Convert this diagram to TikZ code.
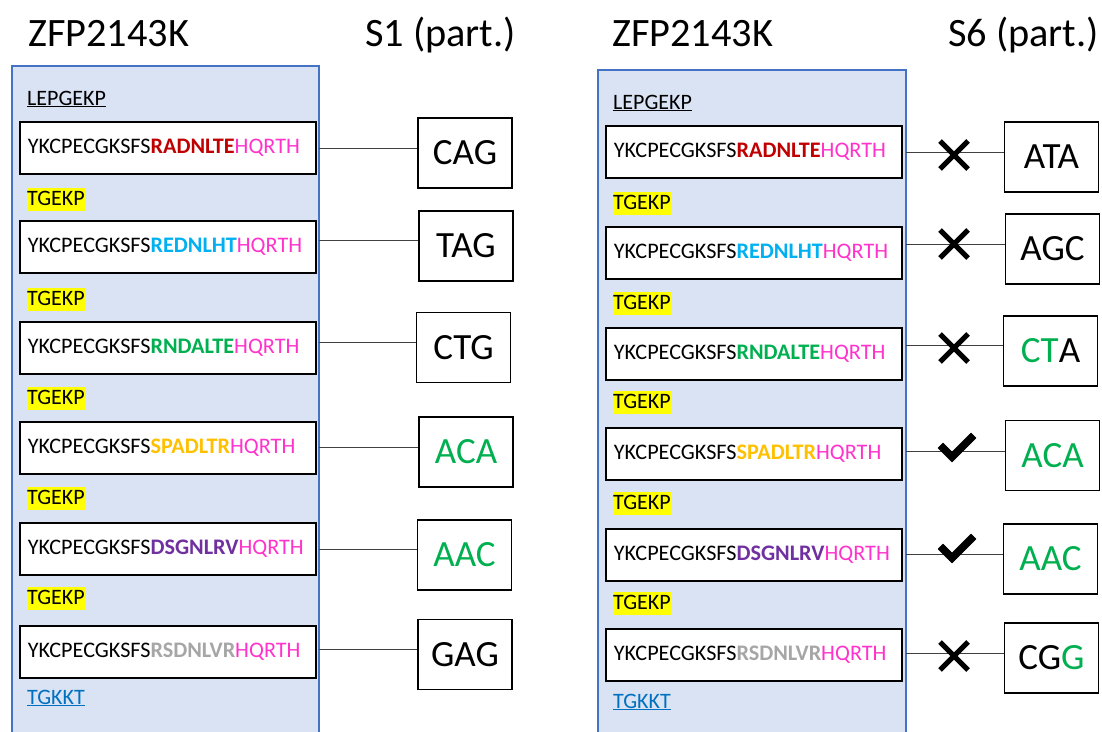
\documentclass[tikz,border=0pt]{standalone}
\usepackage{fontspec}
\setmainfont{Carlito}
\usetikzlibrary{calc}
\definecolor{zred}{HTML}{C00000}
\definecolor{zcyan}{HTML}{00B0F0}
\definecolor{zgreen}{HTML}{00B050}
\definecolor{zorange}{HTML}{FFC000}
\definecolor{zpurple}{HTML}{7030A0}
\definecolor{zgray}{HTML}{A6A6A6}
\definecolor{zpink}{HTML}{FF33CC}
\definecolor{zlink}{HTML}{0070C0}
\definecolor{panelfill}{HTML}{DAE3F3}
\definecolor{panelline}{HTML}{4472C4}
\definecolor{hl}{HTML}{FFFF00}
\newcommand{\zseq}[2]{YKCPECGKSFS\textbf{\color{#1}#2}\color{zpink}HQRTH}
\newcommand{\zul}[1]{\underline{#1}}
\tikzset{
  panel/.style={draw=panelline, fill=panelfill, line width=1.3pt},
  seqbox/.style={draw=black, fill=white, line width=1.8pt, anchor=north west,
    minimum width=294pt, minimum height=52pt, text width=280pt, align=left,
    inner xsep=8pt, font=\fontsize{22.2}{26}\selectfont},
  linker/.style={anchor=base west, fill=hl, inner xsep=0pt, inner ysep=0pt,
    text height=17pt, text depth=6pt, font=\fontsize{22}{26}\selectfont},
  plain/.style={anchor=base west, inner sep=0pt, font=\fontsize{22}{26}\selectfont},
  title/.style={anchor=base west, inner sep=0pt, font=\fontsize{40.3}{46}\selectfont},
  codon/.style={draw=black, fill=white, line width=1.6pt, minimum width=94pt,
    minimum height=70pt, inner sep=0pt, font=\fontsize{37}{42}\selectfont},
  conn/.style={draw=black!75, line width=0.9pt},
  xmark/.style={line width=5pt, black},
  cmark/.style={fill=black, draw=black, line width=0.6pt, line join=round},
}
\begin{document}
\begin{tikzpicture}[x=1pt,y=-1pt]
\useasboundingbox (0,0) rectangle (1102,731);
% titles
\node[title] (t1) at (28,46) {ZFP2143K};
\node[title] (t2) at (365,46) {S1 (part.)};
\node[title] (t3) at (612,46) {ZFP2143K};
\node[title] (t4) at (948,46) {S6 (part.)};
% panels
\draw[panel] (12,66) rectangle (319,745);
\draw[panel] (598,70) rectangle (906,745);
% ---------- left panel ----------
\node[plain] (lh) at (27,105) {\zul{LEPGEKP}};
\node[seqbox] (l1) at (19,121) {\zseq{zred}{RADNLTE}};
\node[linker] (lk1) at (27,205) {TGEKP};
\node[seqbox] (l2) at (19,220) {\zseq{zcyan}{REDNLHT}};
\node[linker] (lk2) at (27,305) {TGEKP};
\node[seqbox] (l3) at (19,321) {\zseq{zgreen}{RNDALTE}};
\node[linker] (lk3) at (27,404) {TGEKP};
\node[seqbox] (l4) at (19,421) {\zseq{zorange}{SPADLTR}};
\node[linker] (lk4) at (27,504) {TGEKP};
\node[seqbox] (l5) at (19,522) {\zseq{zpurple}{DSGNLRV}};
\node[linker] (lk5) at (27,604) {TGEKP};
\node[seqbox] (l6) at (19,625) {\zseq{zgray}{RSDNLVR}};
\node[plain, text=zlink] (lt) at (27,704) {\zul{TGKKT}};
% left codons
\node[codon] (c1) at (465,153) {CAG};
\node[codon] (c2) at (466,246) {TAG};
\node[codon] (c3) at (463.5,347.5) {CTG};
\node[codon, text=zgreen] (c4) at (466,452) {ACA};
\node[codon, text=zgreen] (c5) at (464.5,555) {AAC};
\node[codon] (c6) at (465,654.5) {GAG};
\coordinate (a1) at (319,148);
\coordinate (a2) at (319,240);
\coordinate (a3) at (319,342);
\coordinate (a4) at (319,447);
\coordinate (a5) at (319,549);
\coordinate (a6) at (319,649);
\foreach \i in {1,...,6}{\draw[conn] (a\i) -- (a\i -| c\i.west);}
% ---------- right panel ----------
\node[plain] (rh) at (613,109) {\zul{LEPGEKP}};
\node[seqbox] (r1) at (605,125) {\zseq{zred}{RADNLTE}};
\node[linker] (rk1) at (613,209) {TGEKP};
\node[seqbox] (r2) at (605,226) {\zseq{zcyan}{REDNLHT}};
\node[linker] (rk2) at (613,309) {TGEKP};
\node[seqbox] (r3) at (605,327) {\zseq{zgreen}{RNDALTE}};
\node[linker] (rk3) at (613,408) {TGEKP};
\node[seqbox] (r4) at (605,427) {\zseq{zorange}{SPADLTR}};
\node[linker] (rk4) at (613,509) {TGEKP};
\node[seqbox] (r5) at (605,528) {\zseq{zpurple}{DSGNLRV}};
\node[linker] (rk5) at (613,609) {TGEKP};
\node[seqbox] (r6) at (605,628) {\zseq{zgray}{RSDNLVR}};
\node[plain, text=zlink] (rt) at (613,708) {\zul{TGKKT}};
% right codons
\node[codon] (d1) at (1051.5,157) {ATA};
\node[codon] (d2) at (1052.5,249) {AGC};
\node[codon] (d3) at (1050.5,351) {\textcolor{zgreen}{CT}A};
\node[codon, text=zgreen] (d4) at (1052.5,455.5) {ACA};
\node[codon, text=zgreen] (d5) at (1050.5,559) {AAC};
\node[codon] (d6) at (1051.5,658) {CG\textcolor{zgreen}{G}};
\coordinate (b1) at (906,152);
\coordinate (b2) at (906,244);
\coordinate (b3) at (906,345);
\coordinate (b4) at (906,451);
\coordinate (b5) at (906,554);
\coordinate (b6) at (906,653);
\foreach \i in {1,...,6}{\draw[conn] (b\i) -- (b\i -| d\i.west);}
% marks
\foreach \yy in {155,244,348,656}{
  \draw[xmark] (940,\yy-14) -- (968,\yy+14);
  \draw[xmark] (968,\yy-14) -- (940,\yy+14);
}
\foreach \yy in {447,548}{
  \filldraw[cmark] (938,\yy+1) -- (943,\yy-4) -- (952,\yy+5) -- (971,\yy-14) -- (976,\yy-9) -- (952,\yy+15) -- cycle;
}
\end{tikzpicture}
\end{document}
